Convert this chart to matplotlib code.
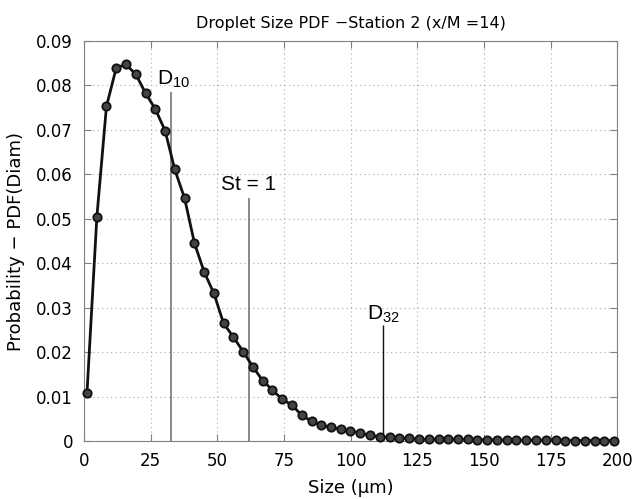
import matplotlib.pyplot as plt
import numpy as np

# droplet size bins (um) and PDF values
size = [1.1, 4.8, 8.4, 12.1, 15.7, 19.4, 23.1, 26.7, 30.4, 34.0,
        37.7, 41.4, 45.0, 48.7, 52.3, 56.0, 59.7, 63.3, 67.0, 70.6,
        74.3, 78.0, 81.6, 85.3, 88.9, 92.6, 96.3, 99.9, 103.6, 107.2,
        110.9, 114.6, 118.2, 121.9, 125.5, 129.2, 132.9, 136.5, 140.2, 143.8,
        147.5, 151.2, 154.8, 158.5, 162.1, 165.8, 169.5, 173.1, 176.8, 180.4,
        184.1, 187.8, 191.4, 195.1, 198.7]
pdf = [0.0108, 0.0504, 0.0753, 0.0840, 0.0847, 0.0825, 0.0782, 0.0747, 0.0698, 0.0611,
       0.0546, 0.0445, 0.0381, 0.0332, 0.0265, 0.0234, 0.0201, 0.0167, 0.0136, 0.0115,
       0.0094, 0.0081, 0.0058, 0.0045, 0.0036, 0.0031, 0.0027, 0.0023, 0.0018, 0.0013,
       0.0009, 0.0009, 0.0007, 0.0006, 0.0004, 0.0004, 0.0005, 0.0005, 0.0004, 0.0004,
       0.0003, 0.0003, 0.0003, 0.0002, 0.0002, 0.0002, 0.0002, 0.0002, 0.0002, 0.0001,
       0.0001, 0.0001, 0.0001, 0.0001, 0.0001]

# characteristic sizes: (label, x, line top, line colour)
marks = [('D$_\\mathregular{10}$', 32.5, 0.0784, '#808080'),
         ('St = 1', 61.9, 0.0546, '#808080'),
         ('D$_\\mathregular{32}$', 112.2, 0.0261, '#111111')]
label_pos = [(27.2, 0.0815), (51.5, 0.0577), (106.2, 0.0285)]

fig = plt.figure(figsize=(6.32, 4.99), dpi=100)
ax = fig.add_axes([0.133, 0.116, 0.844, 0.802])

for (lab, xv, top, col), (tx, ty) in zip(marks, label_pos):
    ax.vlines(xv, 0, top, color=col, lw=1.3 if col != '#111111' else 1.0, zorder=2)
    ax.text(tx, ty, lab, ha='left', va='center', fontsize=15,
            family='Liberation Sans')

ax.plot(size, pdf, color='#111111', lw=2.0, marker='o', markersize=6,
        markerfacecolor='#444444', markeredgecolor='#111111', markeredgewidth=1.3,
        zorder=3, clip_on=False)

ax.set_xlim(0, 200)
ax.set_ylim(0, 0.09)
ax.set_xticks([0, 25, 50, 75, 100, 125, 150, 175, 200])
ax.set_yticks(np.arange(0, 0.091, 0.01))
ax.set_yticklabels(['0', '0.01', '0.02', '0.03', '0.04', '0.05', '0.06', '0.07', '0.08', '0.09'])
ax.grid(True, color='#aaaaaa', linestyle=(0, (1, 3)), linewidth=0.8)
ax.tick_params(direction='in', top=True, right=True, labelsize=12, color='#808080',
               length=5, pad=8)
for s in ax.spines.values():
    s.set_color('#808080')

ax.set_title('Droplet Size PDF \u2212Station 2 (x/M =14)', fontsize=11.5, pad=9)
ax.set_xlabel('Size (\u00b5m)', fontsize=13, labelpad=6)
ax.set_ylabel('Probability \u2212 PDF(Diam)', fontsize=13, labelpad=8)

fig.savefig('out.png', dpi=100)
